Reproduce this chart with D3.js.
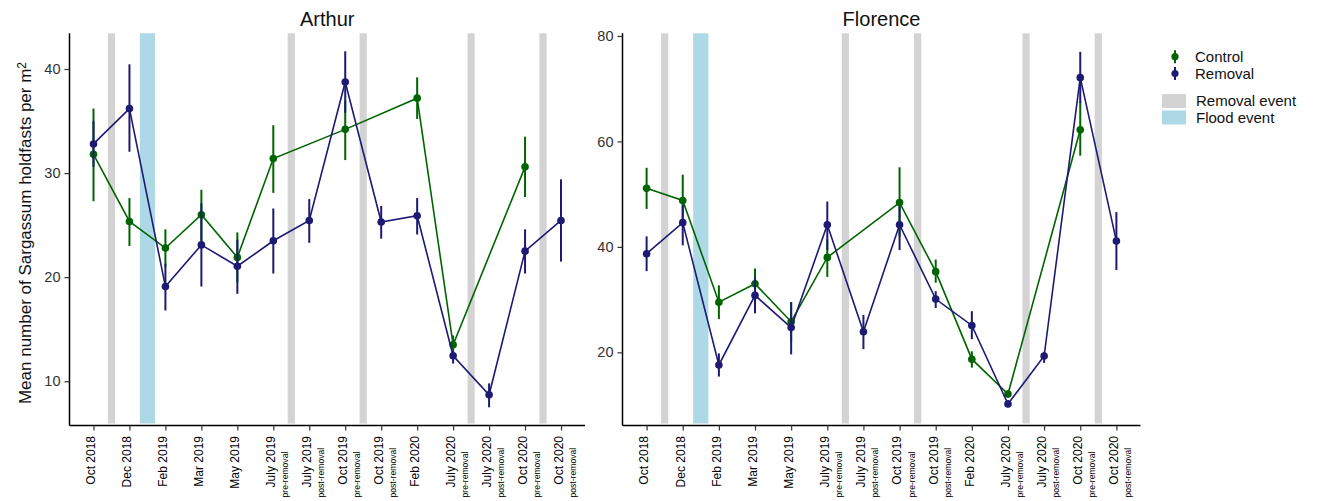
<!DOCTYPE html>
<html>
<head>
<meta charset="utf-8">
<script src="https://cdn.jsdelivr.net/npm/d3@7"></script>
<style>
  html, body { margin: 0; padding: 0; background: #fff; }
  svg { display: block; font-family: "Liberation Sans", Arial, sans-serif; }
</style>
</head>
<body>
<svg id="chart" width="1319" height="501"></svg>
<script>
// ---------- DATA ----------
const categories = [
  "Oct 2018", "Dec 2018", "Feb 2019", "Mar 2019", "May 2019",
  "July 2019 pre-removal", "July 2019 post-removal",
  "Oct 2019 pre-removal", "Oct 2019 post-removal",
  "Feb 2020",
  "July 2020 pre-removal", "July 2020 post-removal",
  "Oct 2020 pre-removal", "Oct 2020 post-removal"
];

const arthurControlMean = [31.8, 25.35, 22.8, 26.0, 21.9, 31.4, null, 34.2, null, 37.2, 13.5, null, 30.6, null];
const arthurControlLow  = [27.3, 23.0, 21.0, 23.5, 19.5, 28.1, null, 31.25, null, 35.2, 13.0, null, 27.7, null];
const arthurControlHigh = [36.2, 27.6, 24.6, 28.4, 24.3, 34.6, null, 37.0, null, 39.2, 14.4, null, 33.5, null];

const arthurRemovalMean = [32.8, 36.2, 19.1, 23.1, 21.05, 23.5, 25.45, 38.75, 25.3, 25.9, 12.45, 8.7, 22.5, 25.45];
const arthurRemovalLow  = [30.6, 32.05, 16.8, 19.1, 18.4, 20.35, 23.3, 35.8, 23.7, 24.1, 11.7, 7.5, 20.35, 21.5];
const arthurRemovalHigh = [35.0, 40.45, 21.3, 27.1, 23.6, 26.6, 27.5, 41.7, 26.85, 27.6, 13.0, 9.8, 24.6, 29.4];

const florenceControlMean = [51.1, 48.8, 29.5, 33.0, 25.8, 38.0, null, 48.4, 35.3, 18.7, 12.1, null, 62.2, null];
const florenceControlLow  = [47.2, 44.6, 26.3, 30.3, 22.0, 34.3, null, 42.0, 33.2, 17.1, 11.4, null, 57.3, null];
const florenceControlHigh = [55.0, 53.7, 32.7, 35.9, 29.5, 41.4, null, 55.1, 37.6, 20.2, 12.8, null, 67.6, null];

const florenceRemovalMean = [38.7, 44.6, 17.6, 30.8, 24.7, 44.2, 23.9, 44.2, 30.1, 25.1, 10.2, 19.3, 72.1, 41.1];
const florenceRemovalLow  = [35.4, 40.3, 15.4, 27.4, 19.6, 39.4, 20.6, 39.4, 28.4, 22.5, 9.6, 18.0, 67.3, 35.6];
const florenceRemovalHigh = [42.0, 48.0, 19.8, 34.2, 29.5, 48.6, 27.1, 47.7, 31.6, 27.8, 10.9, 20.1, 77.0, 46.6];

const arthurYTicks = [10, 20, 30, 40];
const florenceYTicks = [20, 40, 60, 80];

// events occur between two consecutive sampling dates
const removalEvents = [
  ["Oct 2018", "Dec 2018"],
  ["July 2019 pre-removal", "July 2019 post-removal"],
  ["Oct 2019 pre-removal", "Oct 2019 post-removal"],
  ["July 2020 pre-removal", "July 2020 post-removal"],
  ["Oct 2020 pre-removal", "Oct 2020 post-removal"]
];
const floodEvents = [["Dec 2018", "Feb 2019"]];

const seriesNames = ["Control", "Removal"];
const seriesColors = ["#006400", "#1c1a72"];
const eventNames = ["Removal event", "Flood event"];
const eventColors = ["#d3d3d3", "#add8e6"];

// ---------- DRAW ----------
const svg = d3.select("#chart");
const plotTop = 33.3, plotBottom = 425.5;

function makeSeries(mean, low, high) {
  return categories.map((c, i) => ({ cat: c, mean: mean[i], low: low[i], high: high[i] }))
                   .filter(d => d.mean != null);
}

const panels = [
  {
    title: "Arthur", x0: 69.5, x1: 585, yDomain: [5.75, 43.43], ticks: arthurYTicks,
    series: [
      makeSeries(arthurControlMean, arthurControlLow, arthurControlHigh),
      makeSeries(arthurRemovalMean, arthurRemovalLow, arthurRemovalHigh)
    ]
  },
  {
    title: "Florence", x0: 622.5, x1: 1140.5, yDomain: [6.12, 80.51], ticks: florenceYTicks,
    series: [
      makeSeries(florenceControlMean, florenceControlLow, florenceControlHigh),
      makeSeries(florenceRemovalMean, florenceRemovalLow, florenceRemovalHigh)
    ]
  }
];

panels.forEach(p => {
  const x = d3.scalePoint().domain(categories).range([p.x0, p.x1]).padding(0.667);
  const y = d3.scaleLinear().domain(p.yDomain).range([plotBottom, plotTop]);
  const g = svg.append("g");

  // event bands
  const mid = pair => (x(pair[0]) + x(pair[1])) / 2;
  g.selectAll("rect.removal").data(removalEvents).join("rect")
    .attr("class", "removal")
    .attr("x", d => mid(d) - 3.6).attr("width", 7.2)
    .attr("y", plotTop).attr("height", plotBottom - plotTop - 2)
    .attr("fill", eventColors[0]);
  g.selectAll("rect.flood").data(floodEvents).join("rect")
    .attr("class", "flood")
    .attr("x", d => mid(d) - 7.6).attr("width", 15.2)
    .attr("y", plotTop).attr("height", plotBottom - plotTop - 2)
    .attr("fill", eventColors[1]);

  // series
  p.series.forEach((s, si) => {
    const col = seriesColors[si];
    const line = d3.line().x(d => x(d.cat)).y(d => y(d.mean));
    g.append("path").datum(s)
      .attr("d", line).attr("fill", "none")
      .attr("stroke", col).attr("stroke-width", 1.6);
    g.selectAll("line.err" + si).data(s).join("line")
      .attr("class", "err" + si)
      .attr("x1", d => x(d.cat)).attr("x2", d => x(d.cat))
      .attr("y1", d => y(d.low)).attr("y2", d => y(d.high))
      .attr("stroke", col).attr("stroke-width", 2);
    g.selectAll("circle.pt" + si).data(s).join("circle")
      .attr("class", "pt" + si)
      .attr("cx", d => x(d.cat)).attr("cy", d => y(d.mean))
      .attr("r", 3.8).attr("fill", col);
  });

  // y axis
  const yAxis = d3.axisLeft(y).tickValues(p.ticks).tickSize(5).tickPadding(4).tickFormat(d3.format("d"));
  const ya = g.append("g").attr("transform", `translate(${p.x0},0)`).call(yAxis);
  ya.select(".domain").attr("d", `M0,${plotTop}V${plotBottom}`).attr("stroke", "#000").attr("stroke-width", 1.5);
  ya.selectAll(".tick line").attr("stroke", "#333").attr("stroke-width", 1.2);
  ya.selectAll(".tick text").attr("font-size", 14.5).attr("fill", "#333")
    .attr("font-family", "'Liberation Sans', Arial, sans-serif");

  // x axis
  const xAxis = d3.axisBottom(x).tickSize(5).tickFormat("");
  const xa = g.append("g").attr("transform", `translate(0,${plotBottom})`).call(xAxis);
  xa.select(".domain").attr("d", `M${p.x0},0H${p.x1}`).attr("stroke", "#000").attr("stroke-width", 1.5);
  xa.selectAll(".tick line").attr("stroke", "#333").attr("stroke-width", 1.2);

  // rotated labels
  categories.forEach(c => {
    const m = c.match(/^(.*?\d{4})\s*(.*)$/);
    const main = m[1], sub = m[2];
    const cx = x(c);
    svg.append("text")
      .attr("transform", `translate(${cx + 1.8},${plotBottom + 10.5}) rotate(-90)`)
      .attr("text-anchor", "end")
      .attr("font-size", 12).attr("fill", "#000")
      .text(main);
    if (sub) {
      svg.append("text")
        .attr("transform", `translate(${cx + 15},497.5) rotate(-90)`)
        .attr("text-anchor", "start")
        .attr("font-size", 8.6).attr("fill", "#000")
        .text(sub);
    }
  });

  // title
  svg.append("text")
    .attr("x", (p.x0 + p.x1) / 2).attr("y", 25.5)
    .attr("text-anchor", "middle").attr("font-size", 20)
    .attr("fill", "#111")
    .text(p.title);
});

// y label
const yl = svg.append("text")
  .attr("transform", "translate(31,233) rotate(-90)")
  .attr("text-anchor", "middle").attr("font-size", 17).attr("fill", "#111");
yl.append("tspan").text("Mean number of Sargassum holdfasts per m");
yl.append("tspan").attr("dy", "-0.45em").attr("font-size", 12).text("2");

// legend
const lg = svg.append("g");
seriesNames.forEach((n, i) => {
  const cy = 56.7 + i * 16.8;
  lg.append("line").attr("x1", 1175).attr("x2", 1175).attr("y1", cy - 6.5).attr("y2", cy + 6.5)
    .attr("stroke", seriesColors[i]).attr("stroke-width", 2);
  lg.append("circle").attr("cx", 1175).attr("cy", cy).attr("r", 3.6).attr("fill", seriesColors[i]);
  lg.append("text").attr("x", 1195).attr("y", cy + 5.5).attr("font-size", 15).attr("fill", "#111").text(n);
});
eventNames.forEach((n, i) => {
  const ry = 94 + i * 16.5;
  lg.append("rect").attr("x", 1162).attr("y", ry).attr("width", 24).attr("height", 14).attr("fill", eventColors[i]);
  lg.append("text").attr("x", 1196).attr("y", ry + 12).attr("font-size", 15).attr("fill", "#111").text(n);
});
</script>
</body>
</html>
